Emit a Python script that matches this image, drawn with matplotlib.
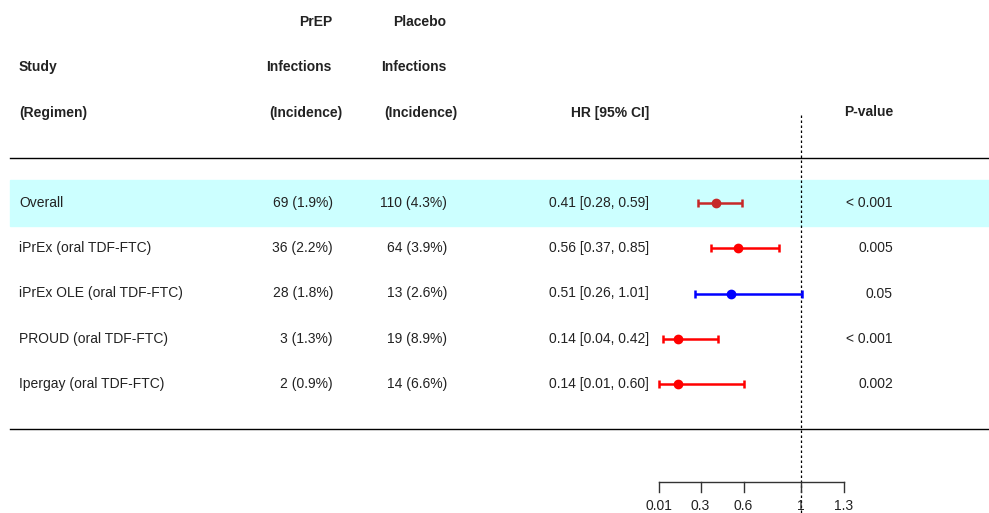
import matplotlib
matplotlib.use('Agg')
import matplotlib.pyplot as plt
import matplotlib.transforms as mtransforms

'''
    Forest plot of PrEP trials: hazard ratios with 95% CI, plus a table of
    infections / incidence and p-values on either side.
'''

studies = ['Overall', 'iPrEx (oral TDF-FTC)', 'iPrEx OLE (oral TDF-FTC)',
           'PROUD (oral TDF-FTC)', 'Ipergay (oral TDF-FTC)']
prep_inf = ['69 (1.9%)', '36 (2.2%)', '28 (1.8%)', '3 (1.3%)', '2 (0.9%)']
placebo_inf = ['110 (4.3%)', '64 (3.9%)', '13 (2.6%)', '19 (8.9%)', '14 (6.6%)']
hr = [0.41, 0.56, 0.51, 0.14, 0.14]
ci_low = [0.28, 0.37, 0.26, 0.04, 0.01]
ci_high = [0.59, 0.85, 1.01, 0.42, 0.60]
pvals = ['< 0.001', '0.005', '0.05', '< 0.001', '0.002']
colors = ['#C62828', '#FF0000', '#0000FF', '#FF0000', '#FF0000']
xticks = [0.01, 0.3, 0.6, 1, 1.3]
xtick_labels = ['0.01', '0.3', '0.6', '1', '1.3']

W, H = 989, 513
plt.rcParams['font.family'] = ['Liberation Sans', 'DejaVu Sans']
FS = 10

fig = plt.figure(figsize=(W / 100, H / 100), dpi=100)
ax = fig.add_axes([0, 0, 1, 1])
ax.axis('off')

# HR axis placed so 0.01 -> px 659 and 1.3 -> px 844
px_per_unit = (844 - 659) / (1.3 - 0.01)
ax.set_xlim(0.01 - 659 / px_per_unit, 0.01 + (W - 659) / px_per_unit)
row_h = 45.25
ax.set_ylim((H - 203) / row_h, -203 / row_h)

tr = mtransforms.blended_transform_factory(ax.transAxes, ax.transData)
def px(x):
    return x / W

n = len(studies)
txt_col = '#222222'

# highlight for the overall row
ax.axhspan(-0.5, 0.5, xmin=px(10), xmax=1, color='#CCFFFF', zorder=0)

# separators
ax.plot([px(10), 1], [-1, -1], color='black', lw=1, transform=tr)
ax.plot([px(10), 1], [n, n], color='black', lw=1, transform=tr)

# reference line at HR = 1
ax.vlines(1, -1.95, ax.get_ylim()[0], colors='black', linestyles=(0, (2, 2)), lw=0.9)

# headers
hdr = dict(fontsize=FS, fontweight='bold', va='center', transform=tr, color=txt_col)
ax.text(px(19), -3, 'Study', ha='left', **hdr)
ax.text(px(19), -2, '(Regimen)', ha='left', **hdr)
ax.text(px(316), -4, 'PrEP', ha='center', **hdr)
ax.text(px(298.5), -3, 'Infections', ha='center', **hdr)
ax.text(px(305.5), -2, '(Incidence)', ha='center', **hdr)
ax.text(px(420), -4, 'Placebo', ha='center', **hdr)
ax.text(px(414), -3, 'Infections', ha='center', **hdr)
ax.text(px(420.5), -2, '(Incidence)', ha='center', **hdr)
ax.text(px(649), -2, 'HR [95% CI]', ha='right', **hdr)
ax.text(px(893), -2, 'P-value', ha='right', **hdr)

# rows
body = dict(fontsize=FS, va='center', transform=tr, color=txt_col)
for i in range(n):
    ax.text(px(19), i, studies[i], ha='left', **body)
    ax.text(px(333), i, prep_inf[i], ha='right', **body)
    ax.text(px(447), i, placebo_inf[i], ha='right', **body)
    ax.text(px(649), i, '%.2f [%.2f, %.2f]' % (hr[i], ci_low[i], ci_high[i]),
            ha='right', **body)
    ax.text(px(893), i, pvals[i], ha='right', **body)
    ax.errorbar(hr[i], i, xerr=[[hr[i] - ci_low[i]], [ci_high[i] - hr[i]]],
                fmt='o', color=colors[i], ms=6, elinewidth=1.8,
                capsize=3, capthick=1.8, zorder=3)

# x axis drawn by hand at the bottom
y_axis = 6.17
ax.plot([xticks[0], xticks[-1]], [y_axis, y_axis], color='#333333', lw=1)
for t, lab in zip(xticks, xtick_labels):
    ax.plot([t, t], [y_axis, y_axis + 0.22], color='#333333', lw=1)
    ax.text(t, y_axis + 0.53, lab, ha='center', va='center', fontsize=FS,
            color=txt_col)

fig.savefig('out.png', dpi=100)
